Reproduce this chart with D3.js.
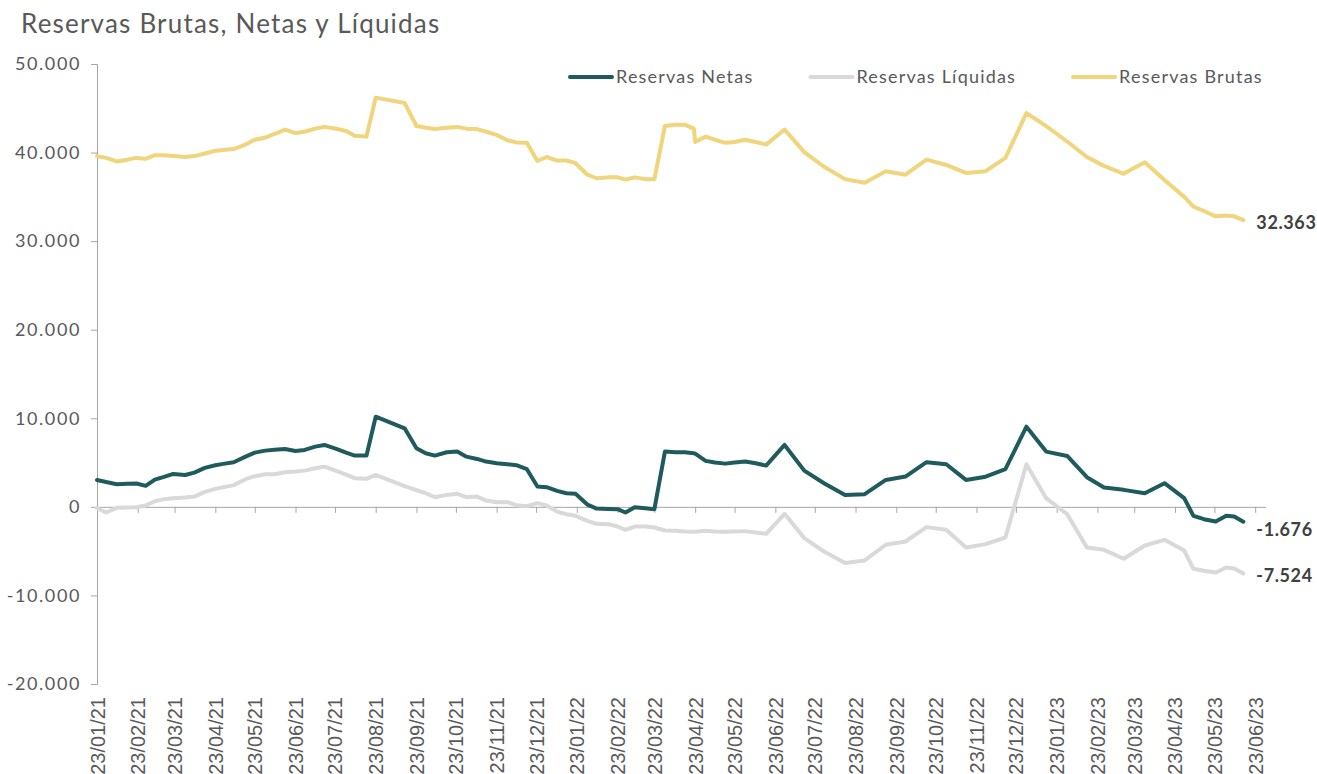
<!DOCTYPE html>
<html lang="es">
<head>
<meta charset="UTF-8">
<title>Reservas Brutas, Netas y Líquidas</title>
<script src="https://d3js.org/d3.v7.min.js"></script>
<style>
    body { margin: 0; background: #fff; }
    text { font-family: Lato, "Open Sans", sans-serif; fill: #595959; }
    .xlab text { font-family: "Liberation Sans", Arial, sans-serif; }
</style>
</head>
<body>
<svg id="chart" width="1317" height="774"></svg>
<script>

// fechas (dd/mm/aa) y series en millones de USD
const dates = [
    '2021-01-23','2021-01-30','2021-02-07','2021-02-15','2021-02-22','2021-03-01','2021-03-08','2021-03-15',
    '2021-03-22','2021-03-31','2021-04-07','2021-04-15','2021-04-23','2021-04-29','2021-05-07','2021-05-16',
    '2021-05-23','2021-05-31','2021-06-07','2021-06-15','2021-06-23','2021-06-30','2021-07-08','2021-07-15',
    '2021-07-24','2021-08-01','2021-08-07','2021-08-16','2021-08-23','2021-09-14','2021-09-23','2021-09-30',
    '2021-10-07','2021-10-16','2021-10-24','2021-10-31','2021-11-08','2021-11-15','2021-11-23','2021-12-01',
    '2021-12-08','2021-12-16','2021-12-24','2021-12-31','2022-01-08','2022-01-15','2022-01-22','2022-01-31',
    '2022-02-07','2022-02-16','2022-02-23','2022-03-01','2022-03-08','2022-03-16','2022-03-23','2022-03-31',
    '2022-04-08','2022-04-15','2022-04-22','2022-04-23','2022-05-01','2022-05-08','2022-05-16','2022-05-23',
    '2022-05-31','2022-06-08','2022-06-16','2022-06-30','2022-07-15','2022-07-30','2022-08-15','2022-08-30',
    '2022-09-15','2022-09-30','2022-10-16','2022-10-31','2022-11-15','2022-11-30','2022-12-15','2022-12-31',
    '2023-01-15','2023-01-31','2023-02-15','2023-02-28','2023-03-15','2023-03-31','2023-04-15','2023-04-30',
    '2023-05-07','2023-05-15','2023-05-24','2023-06-01','2023-06-07','2023-06-14'
];

const brutas = [
    39600,39400,39000,39200,39400,39300,39700,39700,39600,39500,39600,39900,40200,40300,40400,40900,
    41450,41700,42100,42600,42200,42350,42700,42900,42700,42400,41900,41800,46200,45600,43000,42800,
    42650,42800,42900,42700,42650,42350,42000,41400,41150,41100,39050,39500,39100,39100,38800,37500,
    37100,37200,37200,36950,37200,37000,37000,43000,43150,43150,42700,41200,41800,41450,41100,41200,
    41450,41200,40900,42600,40050,38400,37000,36600,37900,37500,39200,38600,37700,37900,39400,44450,
    43000,41250,39500,38500,37600,38900,36900,35000,33900,33400,32800,32900,32800,32363
];

const netas = [
    3040,2800,2560,2600,2630,2370,3080,3380,3720,3600,3870,4400,4700,4850,5030,5670,
    6120,6350,6460,6540,6310,6430,6800,6990,6540,6090,5790,5790,10180,8870,6620,6050,
    5790,6160,6240,5670,5410,5110,4920,4810,4700,4250,2290,2220,1800,1540,1470,260,
    -190,-230,-260,-640,-40,-150,-260,6240,6160,6160,6050,6000,5190,5000,4880,5000,
    5110,4920,4660,6990,4090,2670,1350,1430,3040,3420,5040,4810,3040,3400,4250,9050,
    6240,5750,3350,2180,1920,1540,2670,980,-1010,-1390,-1660,-1010,-1090,-1676
];

const liquidas = [
    -150,-640,-110,-80,-40,150,640,870,980,1050,1160,1690,2030,2220,2450,3120,
    3460,3690,3690,3910,3980,4090,4360,4540,4060,3610,3240,3160,3610,2350,1880,1540,
    1090,1350,1470,1090,1160,710,530,530,190,80,420,150,-530,-830,-1010,-1580,
    -1920,-1950,-2220,-2590,-2220,-2220,-2330,-2670,-2710,-2780,-2820,-2820,-2710,-2780,-2820,-2780,
    -2740,-2900,-3040,-790,-3530,-5040,-6350,-6050,-4280,-3910,-2290,-2590,-4590,-4210,-3460,4810,
    980,-830,-4590,-4850,-5860,-4360,-3720,-4930,-6990,-7220,-7410,-6840,-6960,-7524
];

const yTicks = [-20000, -10000, 0, 10000, 20000, 30000, 40000, 50000];

const parse = d3.timeParse('%Y-%m-%d');
const series = [
    { name: 'Reservas Brutas', values: brutas, color: '#f0d57c' },
    { name: 'Reservas Líquidas', values: liquidas, color: '#d9d9d9' },
    { name: 'Reservas Netas', values: netas, color: '#1f5a5d' }
];
const legendOrder = ['Reservas Netas', 'Reservas Líquidas', 'Reservas Brutas'];

const locale = d3.formatLocale({ decimal: ',', thousands: '.', grouping: [3], currency: ['', ''], minus: '-' });
const fmt = locale.format(',');

const svg = d3.select('#chart');

const x = d3.scaleTime()
    .domain([parse('2021-01-23'), parse('2023-07-01')])
    .range([97, 1265.7]);
const y = d3.scaleLinear().domain([-20000, 50000]).range([684, 64]);

// title
svg.append('text')
    .attr('x', 21).attr('y', 33)
    .style('font-size', '26px')
    .style('letter-spacing', '1.2px')
    .text('Reservas Brutas, Netas y Líquidas');

// y axis
const yAxis = svg.append('g')
    .attr('transform', 'translate(97,0)')
    .call(d3.axisLeft(y).tickValues(yTicks).tickSize(6).tickPadding(10).tickFormat(fmt));
yAxis.selectAll('path, line').attr('stroke', '#a6a6a6');
yAxis.selectAll('text')
    .style('font-size', '18px')
    .style('letter-spacing', '1.6px')
    .style('fill', '#595959');

// x axis at zero
const monthTicks = d3.timeMonth.range(parse('2021-01-01'), parse('2023-07-01'))
    .map(d => new Date(d.getFullYear(), d.getMonth(), 23));
const xAxis = svg.append('g')
    .attr('transform', `translate(0,${y(0)})`)
    .call(d3.axisBottom(x).tickValues(monthTicks).tickSize(6).tickSizeOuter(0).tickFormat(''));
xAxis.selectAll('path, line').attr('stroke', '#a6a6a6');

// x labels at bottom
const xLab = svg.append('g')
    .attr('class', 'xlab')
    .attr('transform', `translate(0,${y(-20000)})`)
    .call(d3.axisBottom(x).tickValues(monthTicks).tickSize(0).tickFormat(d3.timeFormat('%d/%m/%y')));
xLab.select('.domain').remove();
xLab.selectAll('text')
    .attr('transform', 'rotate(-90)')
    .attr('x', -13).attr('y', 0).attr('dy', '0.35em')
    .attr('text-anchor', 'end')
    .style('font-size', '20px').style('fill', '#595959');

// lines
const line = d3.line()
    .x((d, i) => x(parse(dates[i])))
    .y(d => y(d));

svg.selectAll('path.serie')
    .data(series)
    .enter()
    .append('path')
    .attr('class', 'serie')
    .attr('d', d => line(d.values))
    .attr('fill', 'none')
    .attr('stroke', d => d.color)
    .attr('stroke-width', 4)
    .attr('stroke-linejoin', 'round')
    .attr('stroke-linecap', 'round');

// end labels
const last = dates.length - 1;
const labelShift = { 'Reservas Brutas': 2, 'Reservas Líquidas': 2, 'Reservas Netas': 8 };
svg.selectAll('text.endlab')
    .data(series)
    .enter()
    .append('text')
    .attr('class', 'endlab')
    .attr('x', x(parse(dates[last])) + 13)
    .attr('y', d => y(d.values[last]) + labelShift[d.name])
    .attr('dy', '0.35em')
    .style('font-size', '18px')
    .style('font-weight', 'bold')
    .style('letter-spacing', '0.6px')
    .style('fill', '#404040')
    .text(d => fmt(d.values[last]));

// legend
let lx = 570;
legendOrder.forEach(name => {
    const s = series.find(d => d.name === name);
    const g = svg.append('g');
    g.append('line')
        .attr('x1', lx).attr('x2', lx + 42)
        .attr('y1', 77).attr('y2', 77)
        .attr('stroke', s.color).attr('stroke-width', 4).attr('stroke-linecap', 'round');
    const t = g.append('text')
        .attr('x', lx + 46).attr('y', 77).attr('dy', '0.35em')
        .style('font-size', '18px')
        .style('letter-spacing', '1.2px')
        .text(name);
    lx += 46 + t.node().getComputedTextLength() + 57;
});

</script>
</body>
</html>
